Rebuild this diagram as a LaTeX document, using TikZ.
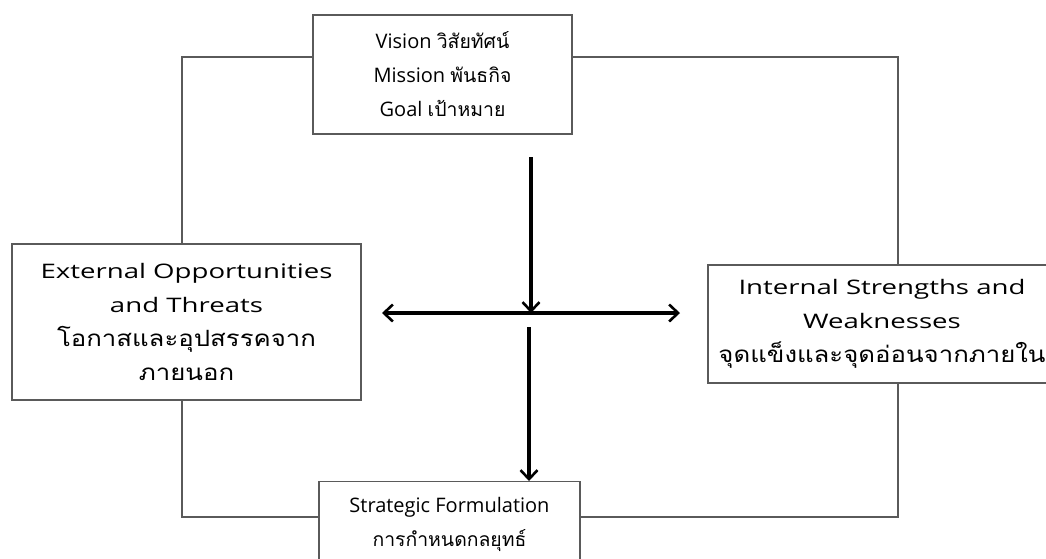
\documentclass[tikz,border=0pt]{standalone}
\usepackage{fontspec}
\setmainfont{Open Sans}
\newfontfamily\thai[Script=Thai,Scale=0.97]{Loma}
\newfontfamily\latw[FakeStretch=1.38]{Open Sans}
\newfontfamily\thaiw[Script=Thai,FakeStretch=1.15,Scale=1.12]{Loma}
\usetikzlibrary{arrows.meta}
\definecolor{lin}{HTML}{5A5A5A}
\tikzset{
  box/.style={draw=lin, line width=1.3pt, fill=white, align=center, font=\fontsize{20}{34}\selectfont, inner sep=0pt},
  loop/.style={draw=lin, line width=1.3pt},
  tip/.tip={Straight Barb[length=9pt,width=17pt,line width=2.6pt]},
  flow/.style={draw=black, line width=3.2pt, -tip},
  flow2/.style={draw=black, line width=3.2pt, tip-tip}
}
\begin{document}
\begin{tikzpicture}[x=1pt,y=-1pt]
\useasboundingbox (0,0) rectangle (1046,558);
\clip (0,0) rectangle (1046,558);
% boxes
\node[box, minimum width=259, minimum height=119] (top) at (442.5,74.5)
  {Vision {\thai วิสัยทัศน์}\\Mission {\thai พันธกิจ}\\Goal {\thai เป้าหมาย}};
\node[box, minimum width=349, minimum height=156] (left) at (186.5,322)
  {{\latw External Opportunities}\\{\latw and Threats}\\{\thaiw โอกาสและอุปสรรคจาก}\\{\thaiw ภายนอก}};
\node[box, minimum width=348, minimum height=118] (right) at (882,324)
  {{\latw Internal Strengths and}\\{\latw Weaknesses}\\{\thaiw จุดแข็งและจุดอ่อนจากภายใน}};
\node[box, anchor=north, minimum width=261, minimum height=130] (bot) at (449.5,481)
  {\begin{tabular}{@{}c@{}}\rule{0pt}{31pt}Strategic Formulation\\{\thai การกำหนดกลยุทธ์}\\[60pt]\end{tabular}};
% loop corners
\coordinate (tl) at (182,57);
\coordinate (tr) at (898,57);
\coordinate (bl) at (182,517);
\coordinate (br) at (898,517);
\draw[loop] (top.west |- tl) -- (tl) -- (left.north -| tl);
\draw[loop] (top.east |- tr) -- (tr) -- (right.north -| tr);
\draw[loop] (left.south -| bl) -- (bl) -- (bot.west |- bl);
\draw[loop] (right.south -| br) -- (br) -- (bot.east |- br);
% arrows
\coordinate (a1) at (531,157);
\coordinate (a2) at (531,313);
\coordinate (hl) at (382,313);
\coordinate (hr) at (680,313);
\coordinate (a3) at (529,327);
\draw[flow] (a1) -- (a2);
\draw[flow2] (hl) -- (hr);
\draw[flow] (a3) -- (a3 |- bot.north);
\end{tikzpicture}
\end{document}
